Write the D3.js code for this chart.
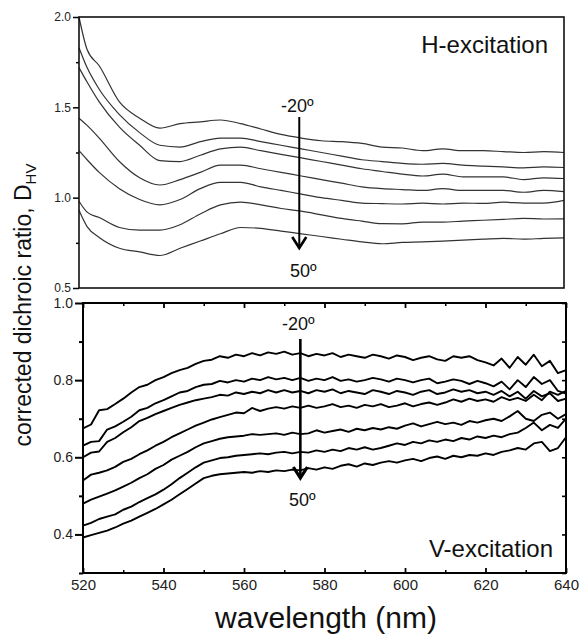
<!DOCTYPE html>
<html>
<head>
<meta charset="utf-8">
<script src="https://cdn.jsdelivr.net/npm/d3@7"></script>
<style>
  body { margin: 0; background: #fff; }
  svg { display: block; font-family: "Liberation Sans", Arial, sans-serif; }
</style>
</head>
<body>
<svg width="582" height="636"></svg>
<script>
// ---- data ----

// top panel (H-excitation), wavelengths in nm
var hWave = [520, 522, 525, 530, 535, 540, 545, 550, 555, 560, 565, 570, 575, 580, 585, 590, 595, 600, 605, 610, 615, 620, 625, 630, 635, 640];
var hMinus20 = [2.0, 1.82, 1.73, 1.53, 1.44, 1.385, 1.41, 1.42, 1.43, 1.41, 1.38, 1.35, 1.33, 1.315, 1.31, 1.30, 1.28, 1.275, 1.26, 1.27, 1.26, 1.26, 1.255, 1.25, 1.255, 1.25];
var hMinus10 = [1.83, 1.72, 1.60, 1.46, 1.36, 1.29, 1.28, 1.31, 1.33, 1.33, 1.31, 1.29, 1.27, 1.25, 1.23, 1.21, 1.20, 1.19, 1.185, 1.19, 1.18, 1.175, 1.17, 1.165, 1.17, 1.167];
var hZero = [1.72, 1.64, 1.53, 1.39, 1.29, 1.205, 1.20, 1.235, 1.27, 1.28, 1.26, 1.24, 1.22, 1.20, 1.18, 1.16, 1.145, 1.13, 1.12, 1.13, 1.115, 1.115, 1.115, 1.10, 1.11, 1.106];
var hPlus10 = [1.44, 1.40, 1.33, 1.20, 1.11, 1.07, 1.10, 1.14, 1.18, 1.18, 1.16, 1.14, 1.12, 1.10, 1.08, 1.06, 1.05, 1.045, 1.04, 1.05, 1.04, 1.04, 1.04, 1.03, 1.04, 1.033];
var hPlus20 = [1.26, 1.21, 1.14, 1.05, 0.99, 0.96, 0.99, 1.05, 1.085, 1.085, 1.06, 1.04, 1.02, 1.00, 0.985, 0.97, 0.967, 0.965, 0.97, 0.965, 0.97, 0.968, 0.975, 0.97, 0.97, 0.985];
var hPlus30 = [0.98, 0.92, 0.89, 0.835, 0.82, 0.82, 0.85, 0.91, 0.96, 0.975, 0.96, 0.94, 0.925, 0.905, 0.885, 0.87, 0.856, 0.855, 0.865, 0.865, 0.87, 0.875, 0.88, 0.885, 0.882, 0.883];
var hPlus50 = [0.93, 0.84, 0.78, 0.72, 0.70, 0.68, 0.72, 0.76, 0.80, 0.835, 0.83, 0.815, 0.80, 0.785, 0.77, 0.755, 0.745, 0.752, 0.755, 0.76, 0.765, 0.77, 0.775, 0.77, 0.775, 0.778];

// bottom panel (V-excitation), every 2 nm from 520 to 640
var vWave = d3.range(520, 641, 2);
var vMinus20 = [.675, .685, .722, .725, .738, .752, .768, .782, .788, .800, .808, .818, .826, .832, .842, .850, .853, .862, .858, .866, .862, .870, .864, .872, .868, .874, .866, .870, .862, .868, .864, .870, .860, .866, .862, .858, .866, .862, .856, .864, .860, .852, .858, .862, .854, .850, .862, .858, .862, .852, .846, .838, .856, .832, .860, .840, .866, .836, .850, .818, .826];
var vMinus10 = [.630, .640, .642, .672, .680, .692, .705, .722, .728, .740, .748, .758, .768, .772, .782, .788, .790, .798, .794, .800, .796, .804, .800, .808, .802, .806, .800, .806, .798, .804, .800, .808, .798, .802, .796, .800, .806, .802, .796, .804, .800, .794, .800, .804, .792, .796, .802, .798, .790, .798, .792, .784, .796, .776, .800, .782, .808, .790, .800, .772, .765];
var vZero = [.600, .612, .615, .640, .650, .665, .678, .694, .702, .712, .720, .728, .736, .742, .748, .752, .756, .762, .760, .768, .764, .770, .766, .774, .768, .774, .768, .772, .766, .774, .770, .776, .766, .772, .768, .764, .774, .770, .764, .772, .768, .762, .770, .774, .764, .768, .776, .770, .774, .766, .770, .762, .772, .758, .770, .752, .772, .758, .766, .746, .752];
var vPlus10 = [.540, .555, .560, .566, .575, .588, .596, .608, .618, .630, .640, .652, .662, .672, .682, .690, .698, .704, .710, .716, .714, .728, .720, .726, .730, .726, .732, .728, .734, .728, .732, .738, .730, .734, .728, .736, .732, .738, .730, .734, .740, .732, .738, .742, .736, .742, .750, .744, .752, .746, .750, .744, .756, .748, .754, .746, .762, .748, .770, .762, .772];
var vPlus20 = [.480, .490, .498, .506, .514, .524, .534, .546, .556, .570, .580, .594, .604, .614, .626, .636, .642, .648, .652, .654, .656, .660, .658, .660, .662, .658, .664, .660, .662, .670, .664, .668, .672, .666, .674, .670, .676, .672, .678, .674, .682, .688, .680, .686, .692, .686, .690, .684, .694, .690, .696, .700, .694, .706, .720, .700, .694, .710, .716, .700, .712];
var vPlus30 = [.423, .430, .440, .446, .452, .464, .472, .484, .494, .504, .516, .530, .546, .560, .574, .586, .592, .598, .600, .604, .606, .608, .610, .608, .612, .614, .610, .614, .612, .618, .614, .620, .616, .624, .620, .626, .620, .624, .630, .636, .632, .640, .636, .644, .640, .646, .642, .650, .646, .654, .650, .656, .652, .660, .664, .676, .690, .670, .684, .676, .700];
var vPlus50 = [.392, .398, .404, .410, .418, .428, .436, .446, .456, .466, .478, .490, .504, .518, .532, .546, .552, .556, .558, .560, .562, .560, .564, .562, .566, .564, .568, .566, .572, .568, .574, .570, .578, .582, .576, .584, .580, .586, .590, .586, .592, .596, .590, .598, .602, .596, .604, .600, .606, .604, .610, .606, .614, .618, .624, .620, .636, .640, .616, .624, .652];

var hSeries = [hMinus20, hMinus10, hZero, hPlus10, hPlus20, hPlus30, hPlus50];
var vSeries = [vMinus20, vMinus10, vZero, vPlus10, vPlus20, vPlus30, vPlus50];

var hMajor = [0.5, 1.0, 1.5, 2.0];
var hMinor = [0.75, 1.25, 1.75];
var vMajor = [0.4, 0.6, 0.8, 1.0];
var vMinor = [0.3, 0.5, 0.7, 0.9];
var waveMajor = [520, 540, 560, 580, 600, 620, 640];
var waveMinor = [530, 550, 570, 590, 610, 630];

// ---- layout ----
var top1 = {left: 79, right: 564, top: 17, bottom: 288};
var bot1 = {left: 83, right: 566, top: 303, bottom: 573};

var svg = d3.select("svg");

var xTop = d3.scaleLinear().domain([520, 640]).range([top1.left, top1.right]);
var yTop = d3.scaleLinear().domain([0.5, 2.0]).range([top1.bottom, top1.top]);
var xBot = d3.scaleLinear().domain([520, 640]).range([bot1.left, bot1.right]);
var yBot = d3.scaleLinear().domain([0.3, 1.0]).range([bot1.bottom, bot1.top]);

var fmt = d3.format(".1f");

// helper: put an axis group down and strip the domain line
var addAxis = function(axis, tx, ty, width, fontSize){
    var g = svg.append("g")
        .attr("transform", "translate(" + tx + "," + ty + ")")
        .call(axis);
    g.select(".domain").remove();
    g.selectAll("line").attr("stroke", "#000").attr("stroke-width", width);
    g.selectAll("text").attr("font-size", fontSize).attr("fill", "#222")
        .attr("font-family", "Liberation Sans, Arial, sans-serif");
    return g;
}

// ---- top panel ----
var lineTop = d3.line()
    .x(function(d, i){return xTop(hWave[i])})
    .y(function(d){return yTop(d)})
    .curve(d3.curveMonotoneX);

svg.append("g").selectAll("path")
    .data(hSeries)
    .enter()
    .append("path")
    .attr("d", lineTop)
    .attr("fill", "none")
    .attr("stroke", "#333")
    .attr("stroke-width", 1.2)
    .attr("stroke-linejoin", "round");

addAxis(d3.axisLeft(yTop).tickValues(hMajor).tickFormat(fmt).tickSize(6).tickPadding(2), top1.left, 0, 1.5, 12);
addAxis(d3.axisLeft(yTop).tickValues(hMinor).tickFormat("").tickSize(3), top1.left, 0, 1.5, 12);

svg.append("rect")
    .attr("x", top1.left).attr("y", top1.top)
    .attr("width", top1.right - top1.left)
    .attr("height", top1.bottom - top1.top)
    .attr("fill", "none").attr("stroke", "#111").attr("stroke-width", 1.6);

// ---- bottom panel ----
var lineBot = d3.line()
    .x(function(d, i){return xBot(vWave[i])})
    .y(function(d){return yBot(d)});

svg.append("g").selectAll("path")
    .data(vSeries)
    .enter()
    .append("path")
    .attr("d", lineBot)
    .attr("fill", "none")
    .attr("stroke", "#000")
    .attr("stroke-width", 1.9)
    .attr("stroke-linejoin", "round");

addAxis(d3.axisLeft(yBot).tickValues(vMajor).tickFormat(fmt).tickSize(8).tickPadding(2), bot1.left, 0, 2, 14);
addAxis(d3.axisLeft(yBot).tickValues(vMinor).tickFormat("").tickSize(4), bot1.left, 0, 2, 14);
// right side ticks point inward (to the left)
addAxis(d3.axisLeft(yBot).tickValues(vMajor.concat(vMinor)).tickFormat("").tickSize(4), bot1.right, 0, 1.6, 14);
// top ticks inward
addAxis(d3.axisBottom(xBot).tickValues(waveMajor).tickFormat("").tickSize(5), 0, bot1.top, 1.8, 14);
addAxis(d3.axisBottom(xBot).tickValues(waveMinor).tickFormat("").tickSize(3), 0, bot1.top, 1.5, 14);
// bottom axis with labels, ticks inward
addAxis(d3.axisBottom(xBot).tickValues(waveMajor).tickSizeInner(-5).tickSizeOuter(0).tickPadding(6), 0, bot1.bottom, 1.8, 15);
addAxis(d3.axisBottom(xBot).tickValues(waveMinor).tickFormat("").tickSizeInner(-3).tickSizeOuter(0), 0, bot1.bottom, 1.5, 15);

svg.append("rect")
    .attr("x", bot1.left).attr("y", bot1.top)
    .attr("width", bot1.right - bot1.left)
    .attr("height", bot1.bottom - bot1.top)
    .attr("fill", "none").attr("stroke", "#000").attr("stroke-width", 2);

// ---- arrows and angle labels ----
var drawArrow = function(x, y1, y2, width){
    svg.append("line")
        .attr("x1", x).attr("x2", x)
        .attr("y1", y1).attr("y2", y2)
        .attr("stroke", "#000").attr("stroke-width", width);
    svg.append("path")
        .attr("d", "M" + (x - 7) + "," + (y2 - 11) + " L" + x + "," + y2 + " L" + (x + 7) + "," + (y2 - 11))
        .attr("fill", "none").attr("stroke", "#000").attr("stroke-width", width + 0.6)
        .attr("stroke-linejoin", "miter");
}

drawArrow(xTop(574.5), 117, 248, 2);
drawArrow(xBot(574), 339, 478, 2.6);

var label = function(text, x, y, size, anchor){
    svg.append("text")
        .attr("x", x).attr("y", y)
        .attr("font-size", size)
        .attr("text-anchor", anchor)
        .attr("fill", "#111")
        .text(text);
}

label("-20º", xTop(574), 112, 18, "middle");
label("50º", xTop(575.5), 277, 18, "middle");
label("-20º", xBot(573.5), 330, 18, "middle");
label("50º", xBot(574.5), 506, 18, "middle");

label("H-excitation", 548, 53, 24, "end");
label("V-excitation", 553, 557, 24, "end");

// axis titles
label("wavelength (nm)", 326, 628, 30, "middle");

var yTitle = svg.append("text")
    .attr("transform", "translate(31,305) rotate(-90)")
    .attr("text-anchor", "middle")
    .attr("font-size", 23)
    .attr("fill", "#111");
yTitle.append("tspan").text("corrected dichroic ratio, D");
yTitle.append("tspan").attr("font-size", 15).attr("dy", 5).text("HV");
</script>
</body>
</html>
